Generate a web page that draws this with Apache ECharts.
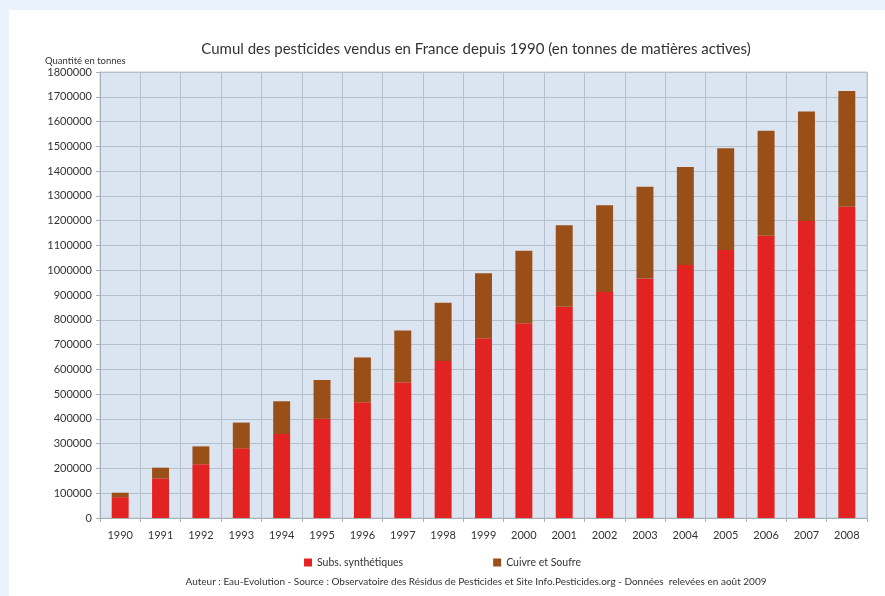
<!DOCTYPE html>
<html>
<head>
<meta charset="utf-8">
<script src="https://cdn.jsdelivr.net/npm/echarts@6/dist/echarts.min.js"></script>
<style>
  html, body { margin: 0; padding: 0; background: #eaf2fb; }
  #chart { width: 885px; height: 596px; }
</style>
</head>
<body>
<div id="chart"></div>
<script>
// données (tonnes, cumul)
var annees = ['1990', '1991', '1992', '1993', '1994', '1995', '1996', '1997', '1998', '1999',
  '2000', '2001', '2002', '2003', '2004', '2005', '2006', '2007', '2008']
var synthetiques = [84000, 160000, 217000, 281000, 339000, 400000, 467000, 548000, 634000, 725000,
  786000, 853000, 912000, 967000, 1021000, 1082000, 1139000, 1199000, 1256000]
var cuivreSoufre = [18000, 43000, 72000, 104000, 132000, 157000, 181000, 209000, 235000, 263000,
  293000, 328000, 350000, 370000, 396000, 410000, 424000, 442000, 467000]
var nomsSeries = ['Subs. synthétiques', 'Cuivre et Soufre']

var font = 'Lato'
var chart = echarts.init(document.getElementById('chart'))

chart.setOption({
  backgroundColor: '#eaf2fb',
  animation: false,
  graphic: [{
    type: 'rect',
    z: -10,
    shape: { x: 9, y: 10, width: 890, height: 600 },
    style: { fill: '#ffffff' }
  }],
  title: [{
    text: 'Cumul des pesticides vendus en France depuis 1990 (en tonnes de matières actives)',
    left: 471,
    textAlign: 'center',
    top: 37,
    textStyle: { fontFamily: font, fontSize: 15, fontWeight: 'normal', color: '#333' }
  }, {
    text: 'Quantité en tonnes',
    left: 40,
    top: 51,
    textStyle: { fontFamily: font, fontSize: 9.5, fontWeight: 'normal', color: '#333' }
  }, {
    text: 'Auteur : Eau-Evolution - Source : Observatoire des Résidus de Pesticides et Site Info.Pesticides.org - Données  relevées en août 2009',
    left: 471,
    textAlign: 'center',
    top: 572,
    textStyle: { fontFamily: font, fontSize: 10, fontWeight: 'normal', color: '#333' }
  }],
  legend: {
    top: 552,
    left: 'center',
    itemWidth: 8,
    itemHeight: 8,
    itemGap: 90,
    icon: 'rect',
    textStyle: { fontFamily: font, fontSize: 10.5, color: '#333' },
    data: nomsSeries
  },
  grid: {
    left: 100,
    right: 18,
    top: 72,
    bottom: 78,
    show: true,
    backgroundColor: '#dbe5f1',
    borderColor: '#c3ccd6',
    borderWidth: 1
  },
  xAxis: {
    type: 'category',
    data: annees,
    axisLine: { lineStyle: { color: '#a8b0b8' } },
    axisTick: { show: true, length: 4, lineStyle: { color: '#a8b0b8' } },
    axisLabel: { fontFamily: font, fontSize: 11, color: '#333', margin: 12 },
    splitLine: { show: true, lineStyle: { color: '#b4c0cc', width: 1 } }
  },
  yAxis: {
    type: 'value',
    min: 0,
    max: 1800000,
    interval: 100000,
    axisLine: { show: true, lineStyle: { color: '#a8b0b8' } },
    axisTick: { show: true, length: 4, lineStyle: { color: '#a8b0b8' } },
    axisLabel: {
      fontFamily: font, fontSize: 11, color: '#333', margin: 8,
      formatter: function(v) { return String(v) }
    },
    splitLine: { lineStyle: { color: '#b4c0cc', width: 1 } }
  },
  series: [{
    name: nomsSeries[0],
    type: 'bar',
    stack: 'cumul',
    barWidth: '42%',
    itemStyle: { color: '#e32222' },
    data: synthetiques
  }, {
    name: nomsSeries[1],
    type: 'bar',
    stack: 'cumul',
    barWidth: '42%',
    itemStyle: { color: '#9b4f18' },
    data: cuivreSoufre
  }]
})
</script>
</body>
</html>
